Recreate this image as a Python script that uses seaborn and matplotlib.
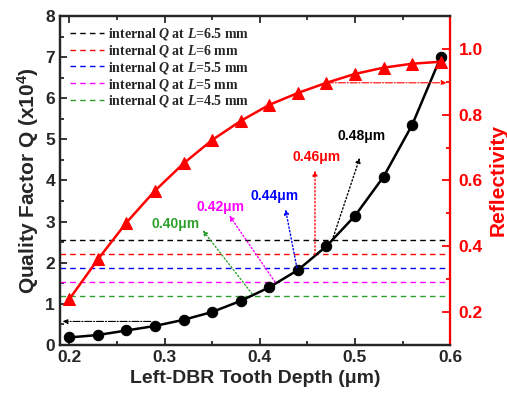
import matplotlib
matplotlib.use("Agg")
import matplotlib.pyplot as plt
import pandas as pd
import seaborn as sns

# data
depth = [0.20, 0.23, 0.26, 0.29, 0.32, 0.35, 0.38, 0.41, 0.44, 0.47, 0.50, 0.53, 0.56, 0.59]
q_factor = [0.18, 0.24, 0.35, 0.46, 0.61, 0.80, 1.07, 1.40, 1.82, 2.40, 3.14, 4.09, 5.35, 7.00]
reflectivity = [0.239, 0.360, 0.472, 0.569, 0.652, 0.723, 0.781, 0.830, 0.866, 0.897,
                0.924, 0.943, 0.955, 0.961]

internal_q = [2.54, 2.20, 1.87, 1.53, 1.20]
cavity_len = ["6.5", "6", "5.5", "5", "4.5"]
line_colors = ["black", "red", "blue", "magenta", "#2ca02c"]

# crossing labels: arrow tail (x, Q), arrow head (x, Q), text position (x, Q)
cross_labels = ["0.40\u03bcm", "0.42\u03bcm", "0.44\u03bcm", "0.46\u03bcm", "0.48\u03bcm"]
cross_colors = ["#2ca02c", "magenta", "blue", "red", "black"]
arrow_tail = [(0.392, 1.24), (0.416, 1.53), (0.439, 1.87), (0.458, 2.20), (0.476, 2.54)]
arrow_head = [(0.340, 2.79), (0.368, 3.15), (0.427, 3.30), (0.458, 4.24), (0.505, 4.55)]
text_pos = [(0.312, 2.94), (0.359, 3.36), (0.416, 3.63), (0.460, 4.58), (0.507, 5.07)]

df = pd.DataFrame({"depth": depth, "q": q_factor, "r": reflectivity})

sns.set_style("ticks")
plt.rcParams["font.family"] = ["Liberation Sans", "DejaVu Sans"]
plt.rcParams["mathtext.fontset"] = "custom"
plt.rcParams["mathtext.it"] = "Liberation Serif:italic:bold"
plt.rcParams["mathtext.rm"] = "Liberation Serif:bold"
plt.rcParams["mathtext.bf"] = "Liberation Sans:bold"

fig = plt.figure(figsize=(5.07, 4.01), dpi=100)
ax = fig.add_axes([0.118, 0.140, 0.770, 0.820])
ax2 = ax.twinx()

for q, L, c in zip(internal_q, cavity_len, line_colors):
    ax.axhline(q, color=c, lw=1.0, ls=(0, (4, 3)),
               label=f"internal $Q$ at $L$={L} mm")

sns.lineplot(data=df, x="depth", y="q", ax=ax, color="black", lw=1.8,
             marker="o", markersize=7.5, markeredgecolor="black")
sns.lineplot(data=df, x="depth", y="r", ax=ax2, color="red", lw=1.8,
             marker="^", markersize=8, markeredgecolor="red")

for lab, c, t, h, p in zip(cross_labels, cross_colors, arrow_tail, arrow_head, text_pos):
    ax.annotate("", xy=h, xytext=t,
                arrowprops=dict(arrowstyle="-|>", color=c, lw=1.0, ls=":",
                                mutation_scale=7, shrinkA=0, shrinkB=0))
    ax.text(p[0], p[1], lab, color=c, fontsize=10, fontweight="bold",
            ha="center", va="center")

# pointers to the axes
ax.annotate("", xy=(0.193, 0.57), xytext=(0.2855, 0.57),
            arrowprops=dict(arrowstyle="-|>", color="black", lw=0.8, ls="-.",
                            mutation_scale=7, shrinkA=0, shrinkB=0))
ax2.annotate("", xy=(0.596, 0.897), xytext=(0.47, 0.897),
             arrowprops=dict(arrowstyle="-|>", color="red", lw=0.8, ls="-.",
                             mutation_scale=7, shrinkA=0, shrinkB=0))

ax.set_xlim(0.19, 0.60)
ax.set_ylim(0, 8)
ax2.set_ylim(0.1, 1.1)
ax.set_xticks([0.2, 0.3, 0.4, 0.5, 0.6])
ax.set_xticks([0.25, 0.35, 0.45, 0.55], minor=True)
ax.set_yticks(range(0, 9))
ax.set_yticks([i + 0.5 for i in range(8)], minor=True)
ax2.set_yticks([0.2, 0.4, 0.6, 0.8, 1.0])
ax2.set_yticks([0.3, 0.5, 0.7, 0.9], minor=True)

ax.tick_params(axis="both", which="both", direction="in", top=True, right=False,
               width=1.3)
ax.tick_params(which="major", length=5, labelsize=12.5)
ax.tick_params(which="minor", length=3)
ax2.tick_params(axis="y", which="both", direction="in", colors="red", width=1.3,
                labelsize=12.5, pad=6)
ax2.tick_params(which="major", length=6)
ax2.tick_params(which="minor", length=3)
for lab in ax.get_xticklabels() + ax.get_yticklabels():
    lab.set_fontweight("bold")
for lab in ax2.get_yticklabels():
    lab.set_fontweight("bold")
    lab.set_color("red")

for side in ["left", "bottom", "top"]:
    ax.spines[side].set_linewidth(1.6)
ax2.spines["right"].set_color("red")
ax2.spines["right"].set_linewidth(1.6)
for side in ["left", "bottom", "top"]:
    ax2.spines[side].set_linewidth(1.6)

ax.set_xlabel("Left-DBR Tooth Depth (\u03bcm)", fontsize=14, fontweight="bold")
ax.set_ylabel("Quality Factor Q (x10$^{\\mathbf{4}}$)", fontsize=15, fontweight="bold",
              labelpad=3)
ax2.set_ylabel("Reflectivity", fontsize=15, fontweight="bold", color="red")

leg = ax.legend(loc="upper left", frameon=False, handlelength=2.4,
                handletextpad=0.3, labelspacing=0.05, borderaxespad=0.35,
                prop={"family": "Liberation Serif", "weight": "bold", "size": 10})

fig.savefig("out.png", dpi=100)
